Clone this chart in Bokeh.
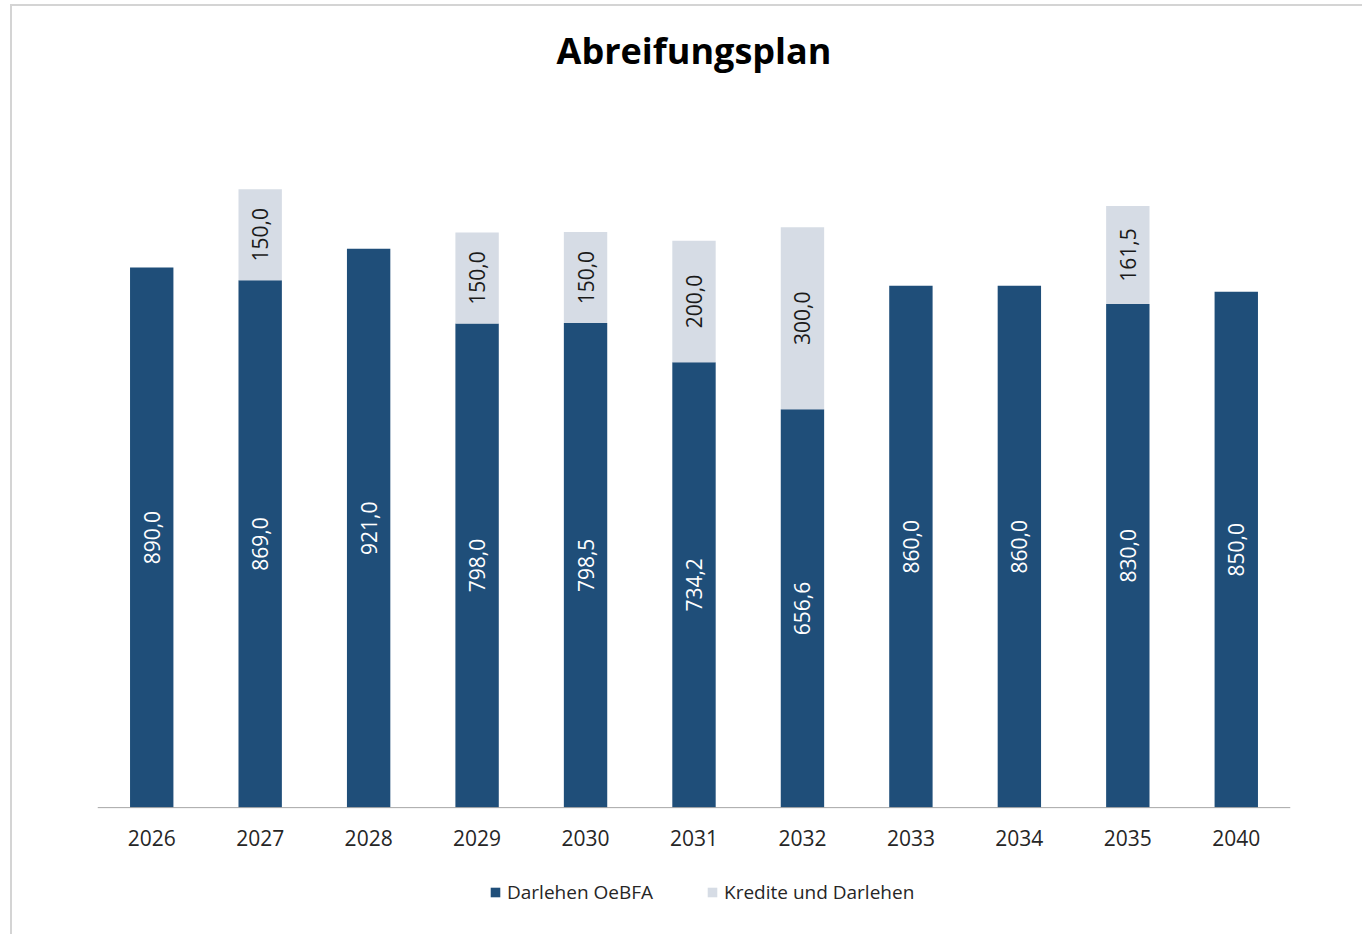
from math import pi
from bokeh.plotting import figure
from bokeh.models import ColumnDataSource, Legend, LegendItem, FactorRange, Span
from bokeh.core.properties import value
from bokeh.embed import file_html
from bokeh.resources import INLINE

years = ["2026", "2027", "2028", "2029", "2030", "2031", "2032", "2033", "2034", "2035", "2040"]
darlehen_oebfa = [890.0, 869.0, 921.0, 798.0, 798.5, 734.2, 656.6, 860.0, 860.0, 830.0, 850.0]
kredite_darlehen = [0.0, 150.0, 0.0, 150.0, 150.0, 200.0, 300.0, 0.0, 0.0, 161.5, 0.0]

DARK = "#1F4E79"
LIGHT = "#D6DCE5"

def fmt(v):
    return f"{v:.1f}".replace(".", ",")

src = ColumnDataSource(dict(
    year=years,
    base=[0.0] * len(years),
    dark_top=darlehen_oebfa,
    light_top=[a + b for a, b in zip(darlehen_oebfa, kredite_darlehen)],
    dark_mid=[a / 2 for a in darlehen_oebfa],
    dark_lbl=[fmt(a) for a in darlehen_oebfa],
))

lx, ly, ll = [], [], []
for y, a, b in zip(years, darlehen_oebfa, kredite_darlehen):
    if b > 0:
        lx.append(y)
        ly.append(a + b / 2)
        ll.append(fmt(b))
lsrc = ColumnDataSource(dict(year=lx, mid=ly, lbl=ll))

# frame extends below the zero baseline to hold the category labels and legend
p = figure(
    x_range=FactorRange(*years, range_padding=0),
    y_range=(-186, 1200),
    frame_width=1193, frame_height=841,
    min_border_left=85, min_border_right=72, min_border_top=73, min_border_bottom=14,
    output_backend="svg", toolbar_location=None,
    x_axis_location=None, y_axis_location=None,
    title="Abreifungsplan",
)
p.margin = (4, 0, 0, 10)
p.styles = {"border-top": "2px solid #d4d4d4", "border-left": "2px solid #d4d4d4"}

p.title.align = "center"
p.title.text_font = "Open Sans"
p.title.text_font_style = "bold"
p.title.text_font_size = "36px"
p.title.text_color = "#000000"
p.title.standoff = 10

p.outline_line_color = None
p.xgrid.grid_line_color = None
p.ygrid.grid_line_color = None

r1 = p.vbar(x="year", bottom=0, top="dark_top", width=0.4, source=src,
            fill_color=DARK, line_color=None)
r2 = p.vbar(x="year", bottom="dark_top", top="light_top", width=0.4, source=src,
            fill_color=LIGHT, line_color=None)

# baseline (category axis line)
p.add_layout(Span(location=0, dimension="width", line_color="#a6a6a6", line_width=1))

# category labels under the baseline
p.text(x="year", y="base", text="year", source=src, y_offset=30,
       text_align="center", text_baseline="middle", text_color="#262626",
       text_font_size="21px", text_font=value("Open Sans"))

p.text(x="year", y="dark_mid", text="dark_lbl", source=src, angle=pi / 2,
       text_align="center", text_baseline="middle", text_color="white",
       text_font_size="21px", text_font=value("Open Sans"))
p.text(x="year", y="mid", text="lbl", source=lsrc, angle=pi / 2,
       text_align="center", text_baseline="middle", text_color="#1a1a1a",
       text_font_size="21px", text_font=value("Open Sans"))

legend = Legend(items=[
    LegendItem(label="Darlehen OeBFA", renderers=[r1]),
    LegendItem(label="Kredite und Darlehen", renderers=[r2]),
], orientation="horizontal", location=(392, 15))
legend.glyph_width = 12
legend.glyph_height = 12
legend.label_standoff = 6
legend.spacing = 53
legend.label_text_font = "Open Sans"
legend.label_text_font_size = "19px"
legend.label_text_color = "#262626"
legend.label_height = 20
legend.border_line_color = None
legend.background_fill_alpha = 0
legend.margin = 0
legend.padding = 0
p.add_layout(legend, "center")

open("out.html", "w").write(file_html(p, INLINE))
